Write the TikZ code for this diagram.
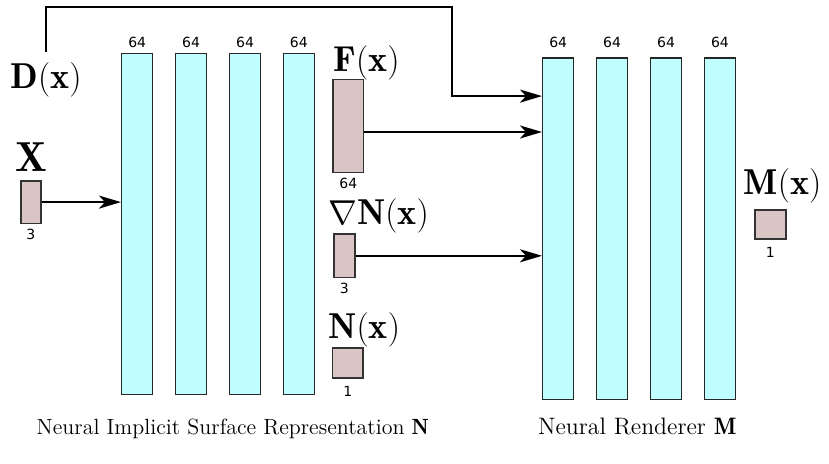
\documentclass[tikz,border=0pt]{standalone}
\usepackage{fontspec}
\newfontfamily\dejavu{DejaVu Sans}
\usetikzlibrary{positioning}
\usetikzlibrary{arrows.meta}

\definecolor{layercol}{RGB}{192,255,255}
\definecolor{featcol}{RGB}{216,197,196}

\tikzset{
  layer/.style={draw=black!85, fill=layercol, line width=0.7pt, minimum width=15.5pt, minimum height=170.5pt, inner sep=0pt},
  feat/.style={draw=black!80, fill=featcol, line width=0.8pt, inner sep=0pt, anchor=north west},
  dimlab/.style={font=\dejavu\fontsize{7}{8}\selectfont, inner sep=1pt, label distance=1.3pt},
  mathlab/.style={font=\fontsize{18}{21}\selectfont, inner sep=0pt},
  caption/.style={font=\fontsize{11}{13}\selectfont, inner sep=0pt, anchor=base},
  arr/.style={line width=1.1pt, -{Stealth[length=11pt,width=6.5pt,inset=3pt]}}
}

\begin{document}
\begin{tikzpicture}[x=0.5pt, y=-0.5pt, node distance=10.75pt]
\useasboundingbox (0,0) rectangle (829,464);

% implicit surface network N
\node[layer, anchor=north west, label={[dimlab]above:64}] (n1) at (121,53) {};
\node[layer, right=of n1, label={[dimlab]above:64}] (n2) {};
\node[layer, right=of n2, label={[dimlab]above:64}] (n3) {};
\node[layer, right=of n3, label={[dimlab]above:64}] (n4) {};

% renderer M
\node[layer, anchor=north west, label={[dimlab, label distance=3.9pt]above:64}] (m1) at (542,57.5) {};
\node[layer, right=of m1, label={[dimlab, label distance=3.9pt]above:64}] (m2) {};
\node[layer, right=of m2, label={[dimlab, label distance=3.9pt]above:64}] (m3) {};
\node[layer, right=of m3, label={[dimlab, label distance=3.9pt]above:64}] (m4) {};

% inputs and outputs
\node[feat, minimum width=10pt, minimum height=21.3pt, label={[dimlab]below:3}] (xin) at (20,180) {};
\node[feat, minimum width=15.2pt, minimum height=46.5pt, label={[dimlab]below:64}] (feat) at (332.3,78.7) {};
\node[feat, minimum width=10.3pt, minimum height=21.7pt, label={[dimlab]below:3}] (grad) at (333.3,233.3) {};
\node[feat, minimum width=15.3pt, minimum height=15pt, label={[dimlab, label distance=2.3pt]below:1}] (sdf) at (331.7,347.3) {};
\node[feat, minimum width=15.3pt, minimum height=14.7pt, label={[dimlab, label distance=2.5pt]below:1}] (rgb) at (754.3,209) {};

\node[mathlab, anchor=base west] (D) at (10,89) {$\mathbf{D}(\mathbf{x})$};
\node[mathlab, anchor=base, font=\fontsize{21}{25}\selectfont] (X) at (31,171.7) {$\mathbf{X}$};
\node[mathlab, anchor=base west] (F) at (333,71.7) {$\mathbf{F}(\mathbf{x})$};
\node[mathlab, anchor=base west] (G) at (328,225) {$\nabla\mathbf{N}(\mathbf{x})$};
\node[mathlab, anchor=base west] (N) at (328,338.3) {$\mathbf{N}(\mathbf{x})$};
\node[mathlab, anchor=base west] (M) at (743.3,195) {$\mathbf{M}(\mathbf{x})$};

\node[caption] (capN) at (232.8,434.3) {Neural Implicit Surface Representation $\mathbf{N}$};
\node[caption, font=\fontsize{11.9}{14}\selectfont] (capM) at (637.2,434.3) {Neural Renderer $\mathbf{M}$};

% connections
\coordinate (dtop) at (452,7);
\draw[arr] ([yshift=5.5pt]D.north) |- (dtop) |- ([yshift=-19.3pt]m1.north west);
\draw[arr] ([yshift=-3pt]feat.east) -- ([yshift=-3pt]feat.east -| m1.west);
\draw[arr] (grad.east) -- (grad.east -| m1.west);
\draw[arr] (xin.east) -- (xin.east -| n1.west);
\end{tikzpicture}
\end{document}
